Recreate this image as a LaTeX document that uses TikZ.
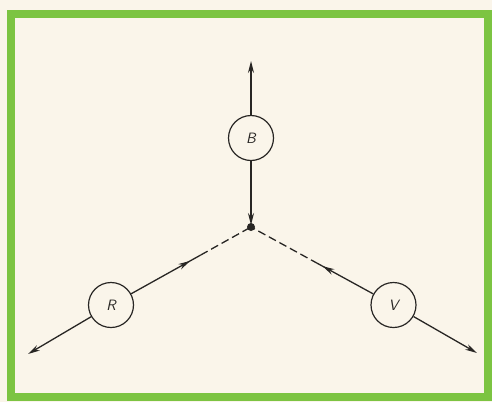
\documentclass[tikz,border=0pt]{standalone}
\usetikzlibrary{arrows.meta,decorations.markings,calc}
\definecolor{cream}{RGB}{250,245,234}
\definecolor{framegreen}{RGB}{124,196,66}
\definecolor{ink}{RGB}{40,38,36}
\tikzset{
  circ/.style={draw=ink, line width=1.2pt, circle, minimum size=45pt, inner sep=0pt, font=\sffamily\itshape\fontsize{15}{15}\selectfont, text=ink},
  conn/.style={draw=ink, line width=1.3pt},
  tip/.style={-{Stealth[length=12pt,width=6pt]}},
  dashconn/.style={conn, dash pattern=on 8pt off 4pt},
  midarrow/.style={postaction={decorate}, decoration={markings, mark=at position #1 with {\arrow{Stealth[length=12pt,width=6pt]}}}}
}
\begin{document}
\begin{tikzpicture}[x=1pt,y=-1pt]
\path[fill=cream] (0,0) rectangle (492,402);
\draw[framegreen, line width=8pt] (10.5,14) rectangle (488,397);
\node[circ] (B) at (251,138) {B};
\node[circ] (R) at (111,305) {R};
\node[circ] (V) at (393.5,305) {V};
\coordinate (J) at (251,227);
\coordinate (Btop) at (251,61);
\coordinate (Rout) at (28,354);
\coordinate (Vout) at (477,353);
\coordinate (SR) at ($(R)!0.64!(J)$);
\coordinate (SV) at ($(V)!0.53!(J)$);
\fill[ink] (J) circle (4pt);
\draw[conn,tip] (B) -- (Btop);
\draw[conn,tip,shorten >=2pt] (B) -- (J);
\draw[conn,tip] (R) -- (Rout);
\draw[conn,tip] (V) -- (Vout);
\draw[conn,midarrow=0.85] (R) -- (SR);
\draw[conn,midarrow=0.92] (V) -- (SV);
\draw[dashconn] (SR) -- (J);
\draw[dashconn] (SV) -- (J);
\end{tikzpicture}
\end{document}
